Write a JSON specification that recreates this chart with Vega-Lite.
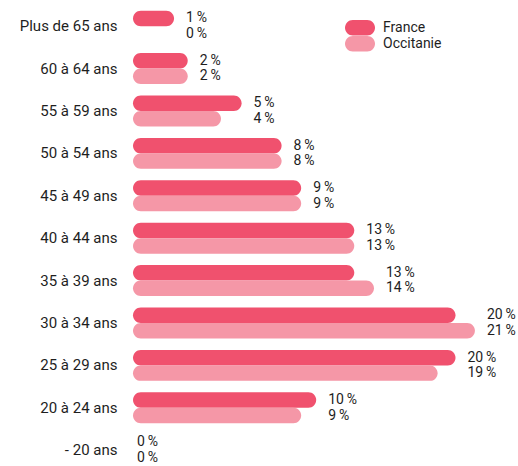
{
  "$schema": "https://vega.github.io/schema/vega-lite/v6.json",
  "width": 372,
  "height": 466,
  "autosize": "none",
  "padding": {"left": 133, "top": 0, "right": 13, "bottom": 0},
  "data": {
    "values": [
      {"age": "Plus de 65 ans", "zone": "France", "value": 0.0100},
      {"age": "Plus de 65 ans", "zone": "Occitanie", "value": 0},
      {"age": "60 à 64 ans", "zone": "France", "value": 0.0191},
      {"age": "60 à 64 ans", "zone": "Occitanie", "value": 0.0191},
      {"age": "55 à 59 ans", "zone": "France", "value": 0.0549},
      {"age": "55 à 59 ans", "zone": "Occitanie", "value": 0.0412},
      {"age": "50 à 54 ans", "zone": "France", "value": 0.0815},
      {"age": "50 à 54 ans", "zone": "Occitanie", "value": 0.0815},
      {"age": "45 à 49 ans", "zone": "France", "value": 0.0945},
      {"age": "45 à 49 ans", "zone": "Occitanie", "value": 0.0945},
      {"age": "40 à 44 ans", "zone": "France", "value": 0.1298},
      {"age": "40 à 44 ans", "zone": "Occitanie", "value": 0.1298},
      {"age": "35 à 39 ans", "zone": "France", "value": 0.1298},
      {"age": "35 à 39 ans", "zone": "Occitanie", "value": 0.1429},
      {"age": "30 à 34 ans", "zone": "France", "value": 0.1971},
      {"age": "30 à 34 ans", "zone": "Occitanie", "value": 0.2100},
      {"age": "25 à 29 ans", "zone": "France", "value": 0.1971},
      {"age": "25 à 29 ans", "zone": "Occitanie", "value": 0.1852},
      {"age": "20 à 24 ans", "zone": "France", "value": 0.1045},
      {"age": "20 à 24 ans", "zone": "Occitanie", "value": 0.0945},
      {"age": "- 20 ans", "zone": "France", "value": 0},
      {"age": "- 20 ans", "zone": "Occitanie", "value": 0}
    ]
  },
  "transform": [
    {"joinaggregate": [{"op": "max", "field": "value", "as": "groupMax"}], "groupby": ["age"]}
  ],
  "encoding": {
    "y": {
      "field": "age",
      "type": "nominal",
      "title": null,
      "scale": {
        "domain": ["Plus de 65 ans", "60 à 64 ans", "55 à 59 ans", "50 à 54 ans", "45 à 49 ans", "40 à 44 ans", "35 à 39 ans", "30 à 34 ans", "25 à 29 ans", "20 à 24 ans", "- 20 ans"],
        "paddingInner": 0.27,
        "paddingOuter": 0.13,
        "align": 0.97
      },
      "axis": {
        "domain": false,
        "ticks": false,
        "labelPadding": 16,
        "labelFontSize": 15,
        "labelFont": "Roboto",
        "labelColor": "#1e1e1e"
      }
    },
    "yOffset": {
      "field": "zone",
      "type": "nominal",
      "scale": {"domain": ["France", "Occitanie"], "paddingInner": 0, "paddingOuter": 0}
    }
  },
  "layer": [
    {
      "transform": [{"filter": "datum.value > 0"}],
      "mark": {"type": "bar", "cornerRadius": 7.75},
      "encoding": {
        "x": {
          "field": "value",
          "type": "quantitative",
          "scale": {"domain": [-0.01728, 0.23], "nice": false, "zero": false},
          "axis": null
        },
        "x2": {"datum": -0.01728},
        "color": {
          "field": "zone",
          "type": "nominal",
          "scale": {"domain": ["France", "Occitanie"], "range": ["#f0516e", "#f597a7"]},
          "legend": {
            "title": null,
            "orient": "none",
            "legendX": 219,
            "legendY": 19.7,
            "padding": 0,
            "rowPadding": 0,
            "symbolType": "M-0.906,-0.969 H0.906 A0.969,0.969 0 0 1 0.906,0.969 H-0.906 A0.969,0.969 0 0 1 -0.906,-0.969 Z",
            "symbolSize": 256,
            "symbolStrokeWidth": 0,
            "symbolOpacity": 1,
            "labelOffset": 15,
            "labelFontSize": 14,
            "labelFont": "Roboto",
            "labelColor": "#1e1e1e"
          }
        }
      }
    },
    {
      "transform": [{"filter": "datum.groupMax > 0"}],
      "mark": {"type": "text", "align": "left", "baseline": "middle", "dx": 12, "fontSize": 14, "font": "Roboto", "color": "#1e1e1e"},
      "encoding": {
        "x": {"field": "groupMax", "type": "quantitative"},
        "text": {"field": "value", "type": "quantitative", "format": ".0%"}
      }
    },
    {
      "transform": [{"filter": "datum.groupMax == 0"}],
      "mark": {"type": "text", "align": "left", "baseline": "middle", "dx": 4, "fontSize": 14, "font": "Roboto", "color": "#1e1e1e"},
      "encoding": {
        "x": {"datum": -0.01728},
        "text": {"field": "value", "type": "quantitative", "format": ".0%"}
      }
    }
  ],
  "config": {
    "view": {"stroke": null},
    "font": "Roboto",
    "locale": {
      "number": {
        "decimal": ",",
        "thousands": "\u00a0",
        "grouping": [3],
        "currency": ["", "\u00a0€"],
        "percent": "\u2009%"
      }
    }
  }
}
